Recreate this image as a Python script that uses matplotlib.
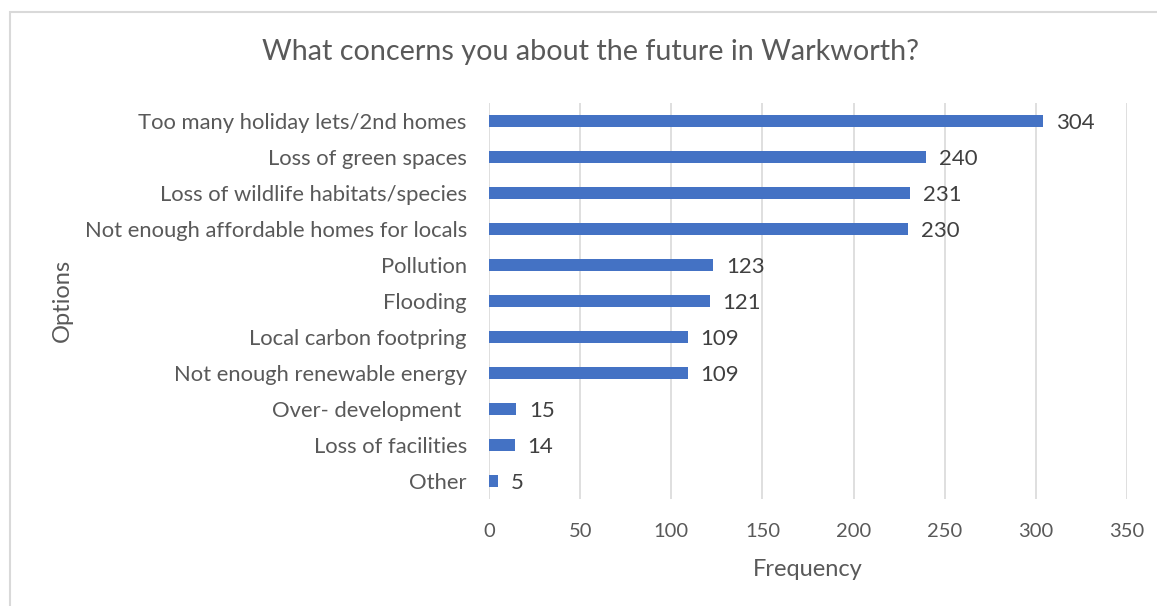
import numpy as np
import matplotlib.pyplot as plt
from matplotlib.patches import Rectangle

plt.rcParams['font.family'] = ['Lato', 'DejaVu Sans']

options = ['Too many holiday lets/2nd homes', 'Loss of green spaces',
           'Loss of wildlife habitats/species', 'Not enough affordable homes for locals',
           'Pollution', 'Flooding', 'Local carbon footpring', 'Not enough renewable energy',
           'Over- development ', 'Loss of facilities', 'Other']
frequency = [304, 240, 231, 230, 123, 121, 109, 109, 15, 14, 5]
xticks = [0, 50, 100, 150, 200, 250, 300, 350]

txt = '#595959'
W, H = 1157, 606
fig = plt.figure(figsize=(W / 100, H / 100), dpi=100)
fig.patches.append(Rectangle((10 / W, -0.1), 1.2, (H - 12) / H + 0.1,
                             transform=fig.transFigure, fill=False,
                             edgecolor='#d9d9d9', linewidth=1.5))

ax = fig.add_axes([489 / W, 107 / H, 638 / W, 396 / H])
y = np.arange(len(options))
ax.barh(y, frequency, height=0.36, color='#4472C4', zorder=3)
for yi, v in zip(y, frequency):
    ax.annotate(str(v), (v, yi), xytext=(9, -1.5), textcoords='offset points',
                va='center', ha='left', fontsize=16, color='#404040')

ax.set_xlim(0, 350)
ax.set_ylim(len(options) - 0.5, -0.5)
ax.set_xticks(xticks)
ax.set_yticks(y)
ax.set_yticklabels(options)
ax.grid(axis='x', color='#d9d9d9', linewidth=1.2, zorder=0)
for s in ax.spines.values():
    s.set_visible(False)
ax.tick_params(length=0, colors=txt)
ax.tick_params(axis='x', pad=17, labelsize=14.5)
ax.tick_params(axis='y', pad=16, labelsize=15.8)
fig.text(808 / W, 1 - 569 / H, 'Frequency', ha='center', va='center',
         fontsize=17, color=txt)
fig.text(62 / W, 1 - 300 / H, 'Options', rotation=90, ha='center', va='center',
         fontsize=17, color=txt)
fig.text(591 / W, 1 - 52 / H, 'What concerns you about the future in Warkworth?',
         ha='center', va='center', fontsize=20.7, color=txt)

fig.savefig('out.png', dpi=100)
